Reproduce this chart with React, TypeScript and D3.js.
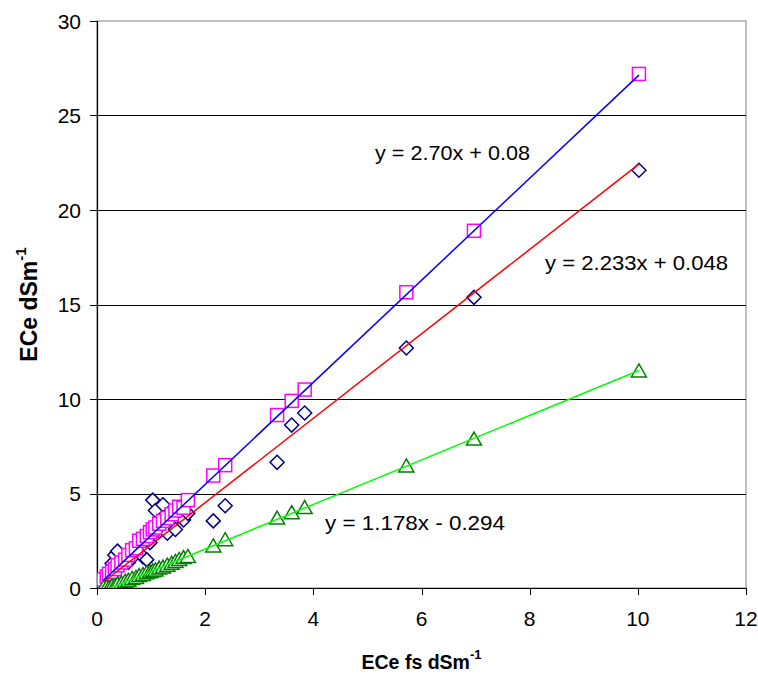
import React from "react";
import * as d3 from "d3";

const xValues = [0.12, 0.18, 0.22, 0.28, 0.33, 0.38, 0.45, 0.52, 0.58, 0.65, 0.72, 0.78, 0.85, 0.92, 0.98, 1.03, 1.08, 1.15, 1.22, 1.3, 1.38, 1.45, 1.52, 1.6, 1.68, 2.15, 2.37, 3.33, 3.6, 3.84, 5.72, 6.97, 10.02];
const squareValues = [0.45, 0.6, 0.75, 0.85, 1.0, 1.2, 1.35, 1.5, 1.75, 2.0, 2.1, 2.5, 2.6, 2.75, 2.95, 3.1, 3.2, 3.4, 3.55, 3.7, 3.9, 4.1, 4.3, 4.25, 4.65, 5.95, 6.5, 9.15, 9.9, 10.5, 15.65, 18.9, 27.2];
const diamondValues = [0.4, 0.55, 0.7, 1.3, 1.75, 1.95, 1.2, 1.4, 1.35, 1.6, 2.05, 2.3, 1.65, 1.5, 2.4, 4.65, 4.1, 3.0, 4.4, 2.9, 3.5, 3.1, 4.0, 3.6, 3.95, 3.55, 4.35, 6.65, 8.62, 9.26, 12.7, 15.38, 22.1];
const triangleValues = [0.02, 0.05, 0.0, 0.1, 0.12, 0.2, 0.25, 0.35, 0.4, 0.5, 0.55, 0.65, 0.7, 0.8, 0.85, 0.9, 0.95, 1.05, 1.1, 1.2, 1.3, 1.4, 1.5, 1.6, 1.66, 2.22, 2.55, 3.69, 3.98, 4.25, 6.45, 7.87, 11.48];

const xTicks = [0, 2, 4, 6, 8, 10, 12];
const yTicks = [0, 5, 10, 15, 20, 25, 30];

const trendSlopes = [2.7, 2.233, 1.178];
const trendIntercepts = [0.08, 0.048, -0.294];
const trendLabels = ["y = 2.70x + 0.08", "y = 2.233x + 0.048", "y = 1.178x - 0.294"];

const W = 758;
const H = 675;
const left = 97;
const right = 746;
const top = 21;
const bottom = 588;
const FONT = "'Liberation Sans', Arial, sans-serif";

export default function App() {
  const x = d3.scaleLinear().domain([0, 12]).range([left, right]);
  const y = d3.scaleLinear().domain([0, 30]).range([bottom, top]);
  const xMin = d3.min(xValues) as number;
  const xMax = d3.max(xValues) as number;
  const lineColors = ["#0000FF", "#FF0000", "#00FF00"];
  const labelPos = [
    { x: 375, y: 160, w: 155 },
    { x: 545, y: 270, w: 183 },
    { x: 325, y: 530, w: 180 },
  ];
  const line = d3
    .line<number[]>()
    .x((d) => x(d[0]))
    .y((d) => y(d[1]));

  const diamond = (cx: number, cy: number) => {
    const r = 7;
    return `M${cx},${cy - r}L${cx + r},${cy}L${cx},${cy + r}L${cx - r},${cy}Z`;
  };
  const tri = (cx: number, cy: number) => {
    const w = 7.5;
    const h = 13;
    return `M${cx},${cy - h * 0.55}L${cx + w},${cy + h * 0.45}L${cx - w},${cy + h * 0.45}Z`;
  };

  return (
    <svg
      width={W}
      height={H}
      style={{ position: "absolute", left: 0, top: 0, background: "#fff" }}
      fontFamily={FONT}
    >
      <defs>
        <clipPath id="plotclip">
          <rect x={left} y={top} width={right - left} height={bottom - top} />
        </clipPath>
      </defs>
      <rect x={0} y={0} width={W} height={H} fill="#fff" />
      <rect x={left} y={top} width={right - left} height={bottom - top} fill="none" stroke="#808080" strokeWidth={1} />
      {yTicks.slice(1, -1).map((t) => (
        <line key={t} x1={left} x2={right} y1={Math.round(y(t)) + 0.5} y2={Math.round(y(t)) + 0.5} stroke="#000" strokeWidth={1} />
      ))}
      <line x1={left + 0.5} x2={left + 0.5} y1={top} y2={bottom + 1} stroke="#000" strokeWidth={1.2} />
      <line x1={left} x2={right} y1={bottom + 0.5} y2={bottom + 0.5} stroke="#000" strokeWidth={1.2} />
      {yTicks.map((t) => (
        <g key={t}>
          <line x1={left - 7} x2={left} y1={Math.round(y(t)) + 0.5} y2={Math.round(y(t)) + 0.5} stroke="#000" />
          <text x={left - 16} y={y(t)} dy="0.36em" textAnchor="end" fontSize={21}>
            {t}
          </text>
        </g>
      ))}
      {xTicks.map((t) => (
        <g key={t}>
          <line x1={Math.round(x(t)) + 0.5} x2={Math.round(x(t)) + 0.5} y1={bottom} y2={bottom + 7} stroke="#000" />
          <text x={x(t)} y={bottom + 30} dy="0.36em" textAnchor="middle" fontSize={21}>
            {t}
          </text>
        </g>
      ))}
      <g clipPath="url(#plotclip)">
        {xValues.map((v, i) => (
          <path key={"d" + i} d={diamond(x(v), y(diamondValues[i]))} fill="#fff" stroke="#000080" strokeWidth={1.5} />
        ))}
        {xValues.map((v, i) => (
          <rect key={"s" + i} x={x(v) - 6.5} y={y(squareValues[i]) - 6.5} width={13} height={13} fill="#fff" stroke="#FF00FF" strokeWidth={1.5} />
        ))}
        {xValues.map((v, i) => (
          <path key={"t" + i} d={tri(x(v), y(triangleValues[i]))} fill="#fff" stroke="#008000" strokeWidth={1.5} />
        ))}
        {trendSlopes.map((m, i) => (
          <path
            key={"l" + i}
            d={line([
              [xMin, m * xMin + trendIntercepts[i]],
              [xMax, m * xMax + trendIntercepts[i]],
            ]) as string}
            fill="none"
            stroke={lineColors[i]}
            strokeWidth={1.5}
          />
        ))}
      </g>
      {trendLabels.map((s, i) => (
        <text key={s} x={labelPos[i].x} y={labelPos[i].y} fontSize={20.5} textLength={labelPos[i].w} lengthAdjust="spacingAndGlyphs">
          {s}
        </text>
      ))}
      <text x={(left + right) / 2} y={669} textAnchor="middle" fontSize={19.5} fontWeight="bold">
        ECe fs dSm<tspan dy={-10} fontSize={13}>-1</tspan>
      </text>
      <text transform={`translate(37,${(top + bottom) / 2}) rotate(-90)`} textAnchor="middle" fontSize={23} fontWeight="bold">
        ECe dSm<tspan dy={-11} fontSize={15}>-1</tspan>
      </text>
    </svg>
  );
}
